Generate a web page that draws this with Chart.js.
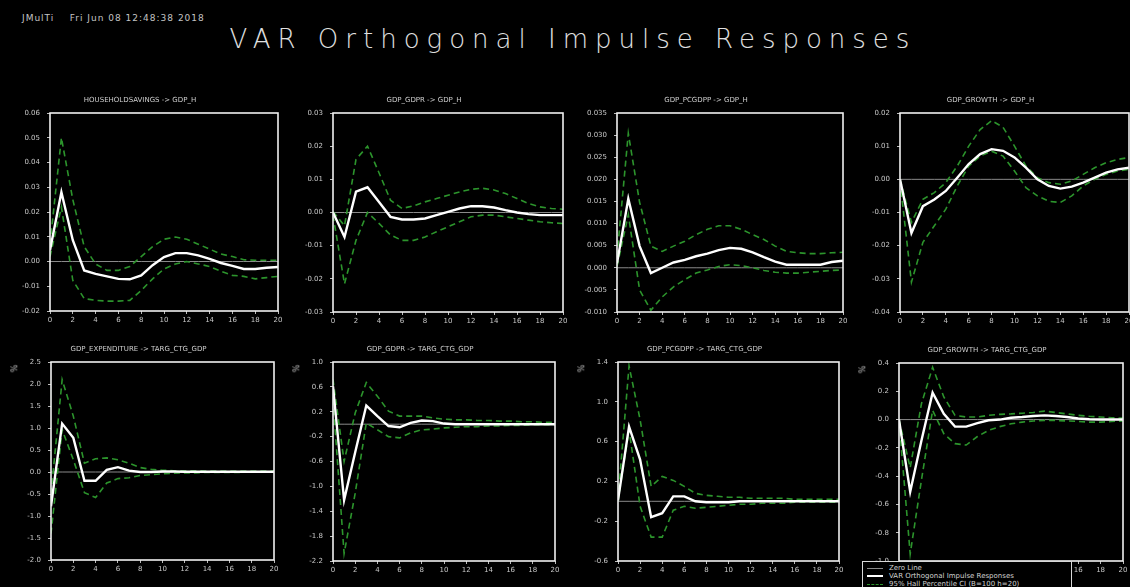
<!DOCTYPE html>
<html>
<head>
<meta charset="utf-8">
<script src="https://cdn.jsdelivr.net/npm/chart.js@4"></script>
<style>
  html, body { margin: 0; padding: 0; background: #000; width: 1130px; height: 587px; overflow: hidden; }
  .abs { position: absolute; }
  #stamp { left: 22px; top: 13px; font: 9px "DejaVu Sans", sans-serif; color: #c4c4c4; letter-spacing: 1px; white-space: pre; }
  #heading { left: 0; top: 24px; width: 1130px; text-align: center; font: 200 26px "DejaVu Sans", sans-serif;
             letter-spacing: 7px; padding-left: 16px; box-sizing: border-box; color: #e0e0e0; }
  .unit { font: 8px "DejaVu Sans", sans-serif; color: #bbb; transform: rotate(-90deg); }
  #legend { left: 862px; top: 561px; width: 210px; height: 30px; background: #000; border: 1px solid #d8d8d8;
            font: 7px "DejaVu Sans", sans-serif; color: #d0d0d0; padding: 2px 4px; box-sizing: border-box; }
  #legend div { height: 8px; line-height: 8px; white-space: nowrap; }
  #legend span.s { display: inline-block; width: 16px; margin-right: 6px; vertical-align: middle; }
</style>
</head>
<body>
<div id="stamp" class="abs">JMulTi    Fri Jun 08 12:48:38 2018</div>
<div id="heading" class="abs">VAR Orthogonal Impulse Responses</div>

<script>
// horizons 0..20
const horizons = [0,1,2,3,4,5,6,7,8,9,10,11,12,13,14,15,16,17,18,19,20];
const xTicks = [0,2,4,6,8,10,12,14,16,18,20];

const titles = [
  'HOUSEHOLDSAVINGS -> GDP_H',
  'GDP_GDPR -> GDP_H',
  'GDP_PCGDPP -> GDP_H',
  'GDP_GROWTH -> GDP_H',
  'GDP_EXPENDITURE -> TARG_CTG_GDP',
  'GDP_GDPR -> TARG_CTG_GDP',
  'GDP_PCGDPP -> TARG_CTG_GDP',
  'GDP_GROWTH -> TARG_CTG_GDP'
];

// y axis: [min, max, step, decimals]
const yAxes = [
  [-0.02, 0.06, 0.01, 2],
  [-0.03, 0.03, 0.01, 2],
  [-0.010, 0.035, 0.005, 3],
  [-0.04, 0.02, 0.01, 2],
  [-2.0, 2.5, 0.5, 1],
  [-2.2, 1.0, 0.4, 1],
  [-0.6, 1.4, 0.4, 1],
  [-1.0, 0.4, 0.2, 1]
];

const irf1 = [0.0045, 0.028, 0.0086, -0.0036, -0.005, -0.006, -0.007, -0.0072, -0.0056, -0.0015, 0.0018, 0.0034, 0.0034, 0.0025, 0.0011, -0.0006, -0.0018, -0.003, -0.003, -0.0025, -0.0022];
const up1  = [0.007, 0.050, 0.025, 0.006, -0.001, -0.0036, -0.0036, -0.002, 0.002, 0.006, 0.009, 0.0099, 0.009, 0.007, 0.005, 0.003, 0.002, 0.0007, 0.0005, 0.0005, 0.0005];
const lo1  = [0.002, 0.022, -0.0076, -0.015, -0.0157, -0.016, -0.016, -0.0157, -0.0117, -0.007, -0.003, -0.001, 0.0, -0.001, -0.002, -0.004, -0.0056, -0.006, -0.007, -0.0065, -0.006];

const irf2 = [0, -0.0074, 0.0063, 0.0076, 0.0032, -0.0013, -0.0021, -0.0021, -0.0018, -0.0008, 0.0002, 0.0012, 0.0019, 0.0019, 0.0015, 0.0007, 0, -0.0005, -0.0008, -0.0008, -0.0008];
const up2  = [0.0003, -0.004, 0.016, 0.020, 0.012, 0.0037, 0.0012, 0.002, 0.0032, 0.0042, 0.0052, 0.0062, 0.007, 0.0073, 0.0068, 0.0057, 0.0042, 0.0027, 0.0017, 0.0012, 0.001];
const lo2  = [-0.0008, -0.0215, -0.0084, 0.0, -0.0033, -0.0068, -0.0084, -0.0084, -0.0074, -0.0058, -0.0043, -0.0028, -0.0013, -0.0008, -0.0008, -0.0013, -0.0018, -0.0023, -0.0028, -0.0031, -0.0033];

const irf3 = [0.001, 0.0156, 0.0049, -0.0012, 0.0, 0.0012, 0.0018, 0.0026, 0.0032, 0.004, 0.0045, 0.0043, 0.0035, 0.0024, 0.0014, 0.0007, 0.0007, 0.0007, 0.0007, 0.0013, 0.0016];
const up3  = [0.0026, 0.0304, 0.0148, 0.0049, 0.0037, 0.0049, 0.006, 0.0075, 0.0087, 0.0095, 0.0095, 0.0087, 0.0075, 0.0064, 0.0049, 0.0037, 0.0034, 0.0032, 0.0032, 0.0034, 0.0035];
const lo3  = [0.0003, 0.012, -0.005, -0.0096, -0.0066, -0.0043, -0.0027, -0.0012, -0.0005, 0.0003, 0.0007, 0.0005, 0.0, -0.0006, -0.001, -0.0012, -0.0012, -0.001, -0.0008, -0.0006, -0.0005];

const irf4 = [0, -0.0162, -0.0081, -0.0061, -0.0035, 0.0005, 0.0046, 0.0076, 0.0091, 0.0086, 0.0066, 0.0035, 0.0, -0.002, -0.0028, -0.0022, -0.001, 0.0005, 0.002, 0.003, 0.0035];
const up4  = [0, -0.013, -0.006, -0.004, -0.001, 0.004, 0.010, 0.015, 0.0177, 0.0157, 0.010, 0.004, 0.0005, -0.001, -0.0015, -0.0005, 0.0015, 0.0035, 0.005, 0.006, 0.0066];
const lo4  = [-0.0005, -0.031, -0.019, -0.014, -0.009, -0.002, 0.004, 0.007, 0.0085, 0.007, 0.0025, -0.0025, -0.005, -0.0066, -0.007, -0.005, -0.002, 0.0, 0.0015, 0.0025, 0.003];

const irf5 = [-0.78, 1.1, 0.78, -0.2, -0.2, 0.05, 0.11, 0.03, 0.0, 0.0, 0.01, 0.01, 0.005, 0.005, 0.005, 0.005, 0.005, 0.005, 0.005, 0.005, 0.005];
const up5  = [-0.5, 2.1, 1.27, 0.2, 0.3, 0.32, 0.28, 0.2, 0.1, 0.06, 0.04, 0.03, 0.03, 0.03, 0.02, 0.02, 0.02, 0.02, 0.02, 0.02, 0.02];
const lo5  = [-1.4, 0.96, 0.28, -0.47, -0.58, -0.25, -0.15, -0.13, -0.08, -0.06, -0.04, -0.03, -0.02, -0.02, -0.01, -0.01, -0.01, -0.01, 0, 0, 0];

const irf6 = [0.61, -1.22, -0.45, 0.30, 0.13, -0.03, -0.05, 0.02, 0.06, 0.05, 0.01, 0.0, 0.0, 0.0, 0.0, 0.0, 0.0, 0.0, 0.0, 0.0, 0.0];
const up6  = [0.72, -0.6, 0.18, 0.67, 0.45, 0.21, 0.13, 0.13, 0.13, 0.1, 0.08, 0.07, 0.07, 0.06, 0.06, 0.05, 0.05, 0.04, 0.04, 0.03, 0.03];
const lo6  = [0.4, -2.08, -1.11, 0.02, -0.09, -0.2, -0.22, -0.14, -0.09, -0.08, -0.06, -0.05, -0.04, -0.04, -0.03, -0.03, -0.02, -0.02, -0.01, -0.01, -0.01];

const irf7 = [0.01, 0.75, 0.42, -0.16, -0.12, 0.05, 0.05, 0.0, -0.01, -0.01, -0.01, 0, 0, 0, 0, 0, 0, 0, 0, 0, 0];
const up7  = [0.02, 1.36, 0.82, 0.15, 0.25, 0.21, 0.15, 0.08, 0.06, 0.05, 0.04, 0.04, 0.03, 0.03, 0.03, 0.03, 0.02, 0.02, 0.02, 0.02, 0.02];
const lo7  = [0.0, 0.72, -0.05, -0.36, -0.36, -0.09, -0.05, -0.07, -0.06, -0.05, -0.04, -0.03, -0.03, -0.02, -0.02, -0.02, -0.01, -0.01, -0.01, -0.01, -0.01];

const irf8 = [0, -0.51, -0.15, 0.19, 0.04, -0.05, -0.05, -0.025, -0.005, 0.0, 0.013, 0.018, 0.025, 0.03, 0.025, 0.018, 0.008, 0.002, 0.0, 0.0, 0.0];
const up8  = [0.0, -0.34, 0.11, 0.37, 0.16, 0.03, 0.018, 0.018, 0.03, 0.037, 0.04, 0.045, 0.05, 0.06, 0.05, 0.04, 0.03, 0.023, 0.018, 0.013, 0.01];
const lo8  = [-0.005, -0.95, -0.43, 0.065, -0.10, -0.17, -0.18, -0.12, -0.076, -0.05, -0.03, -0.018, -0.01, -0.006, -0.006, -0.01, -0.013, -0.018, -0.018, -0.013, -0.01];

const irfs = [irf1, irf2, irf3, irf4, irf5, irf6, irf7, irf8];
const uppers = [up1, up2, up3, up4, up5, up6, up7, up8];
const lowers = [lo1, lo2, lo3, lo4, lo5, lo6, lo7, lo8];

// plot areas on the page: [left, top, right, bottom]
const boxes = [
  [50, 113, 278, 311], [333, 113, 563, 312], [617, 113, 843, 312], [900, 113, 1129, 312],
  [51, 362, 274, 560], [333, 362, 555, 561], [618, 362, 839, 561], [899, 363, 1123, 561]
];

const AXIS_W = 48, TITLE_H = 20, XAXIS_H = 16, PAD_R = 12;
const FONT = 'DejaVu Sans';
const GREEN = '#2c942c';

const frame = {
  id: 'frame',
  afterDatasetsDraw(chart) {
    const a = chart.chartArea, ctx = chart.ctx;
    ctx.save();
    ctx.strokeStyle = '#f0f0f0';
    ctx.lineWidth = 1.6;
    ctx.strokeRect(a.left, a.top, a.right - a.left, a.bottom - a.top);
    ctx.restore();
  }
};

const pts = arr => arr.map((v, i) => ({ x: horizons[i], y: v }));

boxes.forEach((b, k) => {
  const [L, T, R, B] = b;
  const [ymin, ymax, ystep, dec] = yAxes[k];
  const cv = document.createElement('canvas');
  const w = (R - L) + AXIS_W + PAD_R, h = (B - T) + TITLE_H + XAXIS_H;
  cv.width = w; cv.height = h;
  cv.className = 'abs';
  cv.style.left = (L - AXIS_W) + 'px';
  cv.style.top = (T - TITLE_H) + 'px';
  cv.style.width = w + 'px';
  cv.style.height = h + 'px';
  document.body.appendChild(cv);

  const zero = horizons.map(() => 0);
  new Chart(cv, {
    type: 'line',
    data: {
      datasets: [
        { label: 'VAR Orthogonal Impulse Responses', data: pts(irfs[k]), borderColor: '#ffffff', borderWidth: 2.4, order: 0 },
        { label: 'upper', data: pts(uppers[k]), borderColor: GREEN, borderWidth: 1.6, borderDash: [6, 4], order: 1 },
        { label: 'lower', data: pts(lowers[k]), borderColor: GREEN, borderWidth: 1.6, borderDash: [6, 4], order: 1 },
        { label: 'Zero Line', data: pts(zero), borderColor: '#8a8a8a', borderWidth: 1, order: 2 }
      ]
    },
    options: {
      responsive: false,
      animation: false,
      devicePixelRatio: 1,
      layout: { padding: { top: 0, right: PAD_R, bottom: 0, left: 0 } },
      elements: { point: { radius: 0 }, line: { tension: 0, fill: false } },
      plugins: {
        legend: { display: false },
        tooltip: { enabled: false },
        title: {
          display: true, text: titles[k], color: '#cfcfcf',
          font: { family: FONT, size: 7, weight: 'normal', lineHeight: 1 },
          padding: { top: 4, bottom: 9 }
        }
      },
      scales: {
        x: {
          type: 'linear', min: 0, max: 20,
          afterBuildTicks: s => { s.ticks = xTicks.map(v => ({ value: v })); },
          afterFit: s => { s.height = XAXIS_H; },
          grid: { drawOnChartArea: false, drawTicks: true, tickLength: 3, color: '#bbbbbb' },
          border: { display: false },
          ticks: { color: '#c8c8c8', font: { family: FONT, size: 7 }, padding: 2, maxRotation: 0, autoSkip: false }
        },
        y: {
          type: 'linear', min: ymin, max: ymax,
          afterBuildTicks: s => {
            const n = Math.round((ymax - ymin) / ystep);
            const t = [];
            for (let i = 0; i <= n; i++) t.push({ value: +(ymin + i * ystep).toFixed(dec + 2) });
            s.ticks = t;
          },
          afterFit: s => { s.width = AXIS_W; },
          grid: { drawOnChartArea: false, drawTicks: true, tickLength: 3, color: '#bbbbbb' },
          border: { display: false },
          ticks: {
            color: '#c8c8c8', font: { family: FONT, size: 7 }, padding: 7, autoSkip: false,
            callback: v => Number(v).toFixed(dec)
          }
        }
      }
    },
    plugins: [frame]
  });

  // unit marker beside the lower panels
  if (k >= 4) {
    const u = document.createElement('div');
    u.className = 'abs unit';
    u.textContent = '%';
    u.style.left = (L - 40) + 'px';
    u.style.top = (T + 2) + 'px';
    document.body.appendChild(u);
  }
});
</script>

<div id="legend" class="abs">
  <div><span class="s" style="border-top:1px solid #8a8a8a"></span>Zero Line</div>
  <div><span class="s" style="border-top:2px solid #fff"></span>VAR Orthogonal Impulse Responses</div>
  <div><span class="s" style="border-top:1px dashed #2c942c"></span>95% Hall Percentile CI (B=100 h=20)</div>
</div>
</body>
</html>
